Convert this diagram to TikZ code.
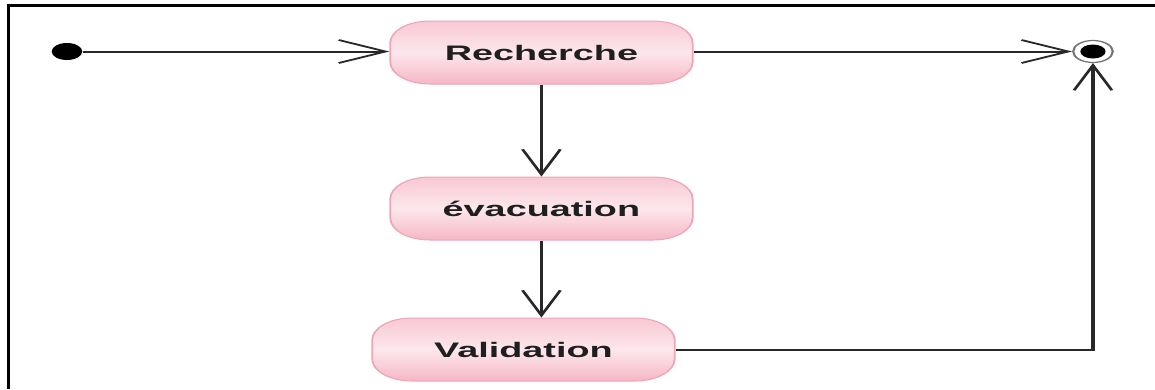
\documentclass[tikz,border=0pt]{standalone}
\usepackage{fontspec}
\setmainfont{Liberation Sans}
\usetikzlibrary{arrows.meta}

\definecolor{stateTop}{RGB}{248,200,211}
\definecolor{stateMid}{RGB}{253,232,237}
\definecolor{stateBot}{RGB}{245,182,196}
\definecolor{stateEdge}{RGB}{238,166,183}
\definecolor{flowInk}{RGB}{40,40,40}

\tikzset{
  statebox/.style={rounded corners=22pt, draw=stateEdge, line width=1pt,
    top color=stateTop, bottom color=stateBot, middle color=stateMid,
    minimum width=168pt, minimum height=63pt, inner sep=0pt,
    font=\fontsize{21}{21}\selectfont\bfseries, text=black!88},
  flow/.style={draw=flowInk, line width=2pt},
  hbarb/.style={-{Straight Barb[length=26pt,width=23pt,line width=1.7pt]}},
  vbarb/.style={-{Straight Barb[length=25pt,width=21pt,line width=1.7pt]}},
  startdot/.style={circle, fill=black, minimum size=17pt, inner sep=0pt},
  endring/.style={circle, draw=black!55, line width=1.2pt, fill=white,
    minimum size=22pt, inner sep=0pt}
}

\begin{document}
\begin{tikzpicture}[x=1pt,y=-1pt]
  \useasboundingbox (0,0) rectangle (1155,389);
  \fill[white] (0,0) rectangle (1155,389);
  % frame edges
  \draw[line width=3pt] (8.5,389) -- (8.5,5.5) -- (1155,5.5);

  \begin{scope}[transform canvas={xscale=1.8}]
    % states
    \node[startdot] (init) at (37.2,51.5) {};
    \node[statebox] (rech) at (300.8,52.5) {Recherche};
    \node[statebox] (evac) at (300.8,208.5) {évacuation};
    \node[statebox] (valid) at (290.8,349.5) {Validation};
    \node[endring] (final) at (607.2,51.5) {};
    \fill[black] (final.center) circle (7);

    % transitions
    \draw[flow, hbarb] (init) -- (rech.west |- init);
    \draw[flow, hbarb] (rech.east |- final) -- (final.west);
    \draw[flow, vbarb] (rech.south) -- (evac.north);
    \draw[flow, vbarb] (evac.south) -- (evac.south |- valid.north);
    \draw[flow, vbarb] (valid.east) -| (final.south);
  \end{scope}
\end{tikzpicture}
\end{document}
